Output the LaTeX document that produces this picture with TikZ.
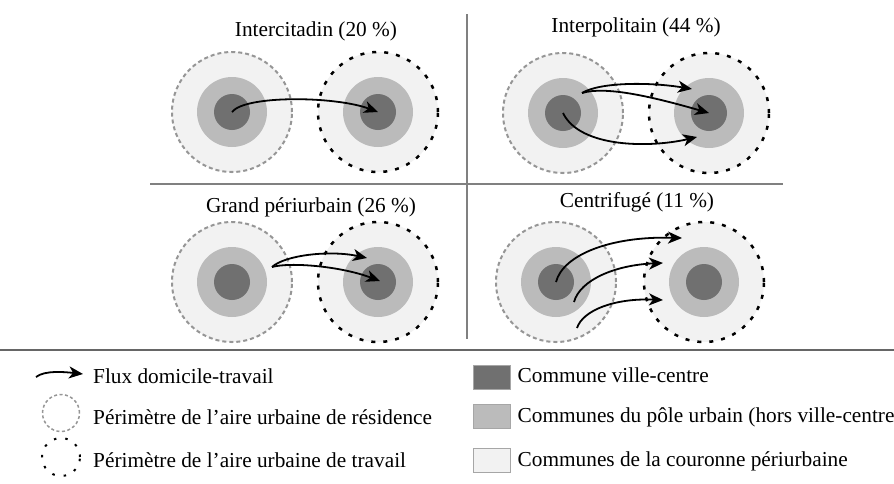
\documentclass[tikz,border=0pt]{standalone}
\usepackage{fontspec}
\setmainfont{Liberation Serif}
\usetikzlibrary{arrows.meta,positioning}
\definecolor{couronne}{RGB}{242,242,242}
\definecolor{pole}{RGB}{187,187,187}
\definecolor{centre}{RGB}{112,112,112}
\definecolor{perres}{RGB}{150,150,150}
\definecolor{filet}{RGB}{128,128,128}
\tikzset{
  aire/.style={circle, fill=couronne, minimum size=120pt, inner sep=0pt},
  res/.style={draw=perres, line width=2pt, dash pattern=on 4pt off 3pt},
  trav/.style={draw=black, line width=2.5pt, dash pattern=on 4pt off 8pt},
  polenode/.style={circle, fill=pole, minimum size=70pt, inner sep=0pt},
  centrenode/.style={circle, fill=centre, minimum size=36pt, inner sep=0pt},
  flux/.style={line width=1.8pt, -{Stealth[length=14pt,width=12pt,inset=4pt]}},
  titre/.style={anchor=base, inner sep=0pt},
  legtext/.style={anchor=base west, inner sep=0pt},
  legright/.style={inner sep=0pt, text height=15pt, text depth=4pt},
  carre/.style={draw=gray!70, line width=1pt, minimum width=37pt, minimum height=24pt, inner sep=0pt},
}
\newcommand{\aireurb}[3]{%
  \node[aire,#3] (#1) at (#2) {};
  \node[polenode] (#1p) at (#1.center) {};
  \node[centrenode] (#1c) at (#1.center) {};
}
\begin{document}
\begin{tikzpicture}[x=1pt, y=-1pt, font=\fontsize{21.3pt}{25pt}\selectfont]
\useasboundingbox (0,0) rectangle (894,483);
\draw[filet, line width=1.5pt] (467,14) -- (467,339);
\draw[filet, line width=1.5pt] (150,184) -- (783,184);
\draw[black!60, line width=1.5pt] (0,350) -- (894,350);

\node[titre] (tinter) at (316,36) {Intercitadin (20~\%)};
\node[titre] (tpoli) at (636,32) {Interpolitain (44~\%)};
\node[titre] (tgrand) at (311,212) {Grand périurbain (26~\%)};
\node[titre] (tcentri) at (637,207) {Centrifugé (11~\%)};

\aireurb{icR}{232,112}{res}
\aireurb{icT}{378,112}{trav}
\aireurb{ipR}{563,113}{res}
\aireurb{ipT}{709,113}{trav}
\aireurb{gpR}{232,282}{res}
\aireurb{gpT}{378,282}{trav}
\aireurb{cfR}{556,282}{res}
\aireurb{cfT}{704,282}{trav}

\draw[flux] (icRc.center) .. controls (245,95) and (335,96) .. (icTc.center);

\coordinate (ipS) at (582,93);
\coordinate (ipE) at (692,89);
\coordinate (ipF) at (697,137);
\draw[flux] (ipS) .. controls (600,82) and (650,82) .. (ipE);
\draw[flux] (ipS) .. controls (605,86) and (650,96) .. (ipTc.center);
\draw[flux] (ipRc.center) .. controls (580,148) and (650,148) .. (ipF);

\coordinate (gpS) at (272,267);
\coordinate (gpE) at (367,258);
\coordinate (gpF) at (380,281);
\draw[flux] (gpS) .. controls (285,255) and (330,250) .. (gpE);
\draw[flux] (gpS) .. controls (290,262) and (340,266) .. (gpF);

\coordinate (cfS) at (574,302);
\coordinate (cfU) at (577,328);
\coordinate (cfE) at (682,238);
\coordinate (cfF) at (663,263);
\coordinate (cfG) at (663,300);
\draw[flux] (cfRc.center) .. controls (563,255) and (610,236) .. (cfE);
\draw[flux] (cfS) .. controls (580,280) and (615,265) .. (cfF);
\draw[flux] (cfU) .. controls (583,310) and (615,298) .. (cfG);

\coordinate (lfa) at (36,377);
\coordinate (lfb) at (83,374);
\draw[flux] (lfa) .. controls (45,370) and (65,372) .. (lfb);
\node[legtext] (lflux) at (93,383) {Flux domicile-travail};
\node[circle, res, minimum size=37pt, line width=1.5pt, dash pattern=on 3pt off 2.5pt] (lres) at (61,413) {};
\node[legtext] (lrestxt) at (93,424) {Périmètre de l’aire urbaine de résidence};
\node[circle, trav, minimum size=38pt, line width=2pt, dash pattern=on 2.5pt off 9pt] (ltrav) at (61,457) {};
\node[legtext] (ltravtxt) at (93,467) {Périmètre de l’aire urbaine de travail};

\node[carre, fill=centre] (sqc) at (491.5,377) {};
\node[legright, right=7pt of sqc] (sqctxt) {Commune ville-centre};
\node[carre, fill=pole] (sqp) at (491.5,416.5) {};
\node[legright, right=7pt of sqp] (sqptxt) {Communes du pôle urbain (hors ville-centre)};
\node[carre, fill=couronne] (sqr) at (491.5,460.5) {};
\node[legright, right=7pt of sqr] (sqrtxt) {Communes de la couronne périurbaine};
\end{tikzpicture}
\end{document}
